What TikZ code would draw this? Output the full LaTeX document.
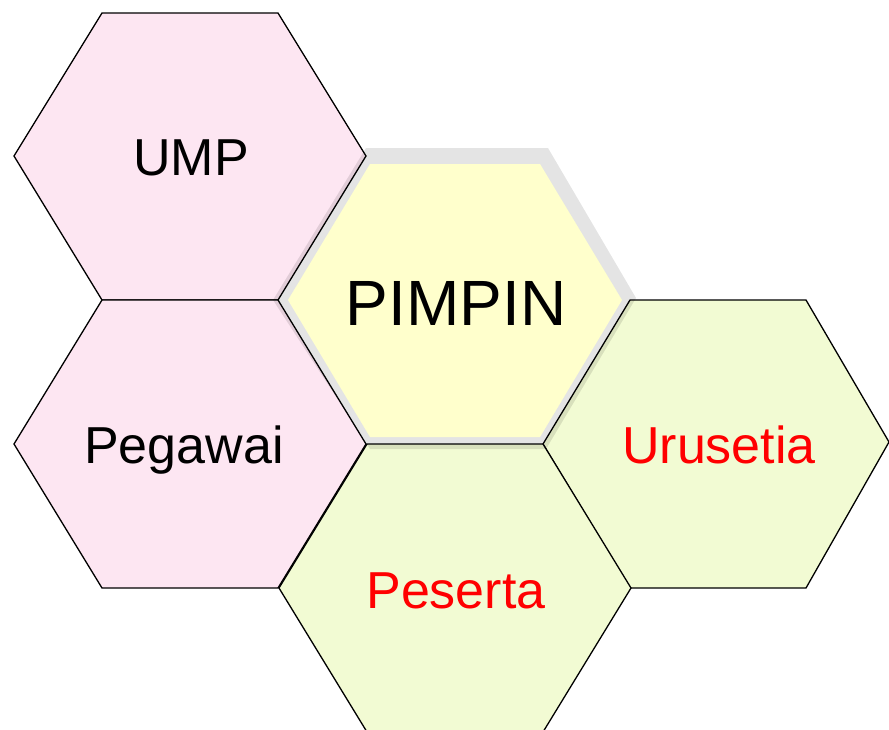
\documentclass[tikz,border=0pt]{standalone}
\usepackage{fontspec}
\setmainfont{Liberation Sans}
\definecolor{hexpink}{RGB}{253,230,242}
\definecolor{hexgreen}{RGB}{242,251,211}
\definecolor{hexyellow}{RGB}{255,255,204}
\definecolor{hexred}{RGB}{255,0,0}
\tikzset{
  hexcell/.style={line width=1.3pt, line join=miter, draw=black},
  glow/.style={fill=black, fill opacity=0.105},
  lbl/.style={anchor=base, inner sep=0pt, font=\fontsize{52}{60}\selectfont},
  biglbl/.style={anchor=base, inner sep=0pt, font=\fontsize{64}{72}\selectfont}
}
\begin{document}
\begin{tikzpicture}[x=1pt,y=-1pt]
\useasboundingbox (0,0) rectangle (889,729);
\clip (0,0) rectangle (889,729);
% neighbour hexagons
\filldraw[hexcell, fill=hexpink]  (102,13) -- (278,13) -- (366,156) -- (278,300) -- (102,300) -- (14,156) -- cycle;
\filldraw[hexcell, fill=hexpink]  (102,300) -- (278,300) -- (366,444) -- (278,588) -- (102,588) -- (14,444) -- cycle;
\filldraw[hexcell, fill=hexgreen] (630,300) -- (806,300) -- (889,442) -- (806,588) -- (630,588) -- (543,444) -- cycle;
\filldraw[hexcell, fill=hexgreen] (367,444) -- (543,444) -- (631,588) -- (543,732) -- (367,732) -- (279,588) -- cycle;
% glow behind PIMPIN
\fill[glow] (366,148) -- (548,148) -- (636,298) -- (546,449) -- (370,449) -- (273,300) -- cycle;
% PIMPIN hexagon
\fill[hexyellow] (370,164) -- (540,164) -- (622,300) -- (540,437) -- (370,437) -- (288,300) -- cycle;
% labels
\node[lbl] (ump) at (191,175) {UMP};
\node[lbl] (pegawai) at (184,463) {Pegawai};
\node[lbl, text=hexred] (urusetia) at (719,463) {Urusetia};
\node[lbl, text=hexred] (peserta) at (456,608) {Peserta};
\node[biglbl] (pimpin) at (456,325) {PIMPIN};
\end{tikzpicture}
\end{document}
